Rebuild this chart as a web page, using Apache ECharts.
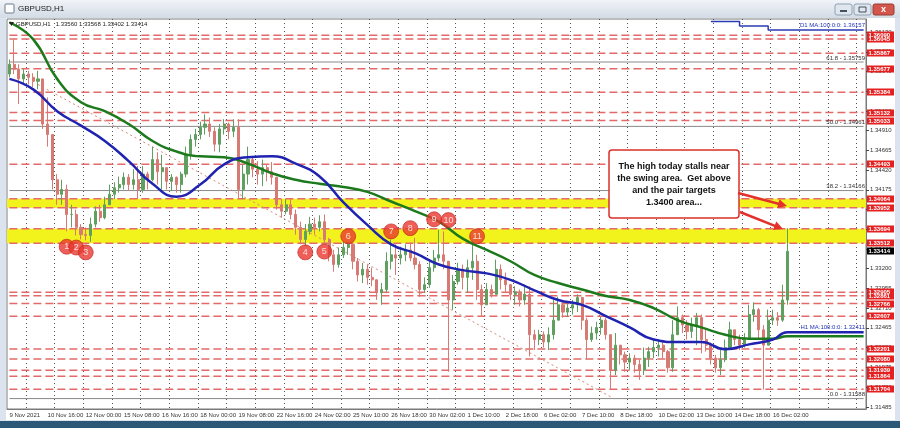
<!DOCTYPE html>
<html>
<head>
<meta charset="utf-8">
<script src="https://cdn.jsdelivr.net/npm/echarts@6.0.0/dist/echarts.min.js"></script>
<style>
  html, body { margin: 0; padding: 0; background: #dbe4ee; }
  #chart { width: 900px; height: 428px; }
</style>
</head>
<body>
<div id="chart"></div>
<script>
  // GBPUSD H1, drawn as 4-hour candles (8 candles between two time labels)
  const tickLabels = ['9 Nov 2021', '10 Nov 16:00', '12 Nov 00:00', '15 Nov 08:00', '16 Nov 16:00',
    '18 Nov 00:00', '19 Nov 08:00', '22 Nov 16:00', '24 Nov 02:00', '25 Nov 10:00', '26 Nov 18:00',
    '30 Nov 02:00', '1 Dec 10:00', '2 Dec 18:00', '6 Dec 02:00', '7 Dec 10:00', '8 Dec 18:00',
    '10 Dec 02:00', '13 Dec 10:00', '14 Dec 18:00', '16 Dec 02:00']
  const slotCount = 180
  const barsPerLabel = 8

  const firstOpen = 1.3561
  const closes = [
    1.3573, 1.3567, 1.3555, 1.3561, 1.3557, 1.3552, 1.3555, 1.3499, 1.3486, 1.3430,
    1.3412, 1.3418, 1.3387, 1.3387, 1.3371, 1.3362, 1.3361, 1.3375, 1.3391, 1.3383,
    1.3399, 1.3412, 1.3420, 1.3424, 1.3433, 1.3424, 1.3430, 1.3418, 1.3437, 1.3430,
    1.3455, 1.3440, 1.3445, 1.3428, 1.3433, 1.3424, 1.3437, 1.3461, 1.3480, 1.3486,
    1.3495, 1.3499, 1.3490, 1.3474, 1.3493, 1.3499, 1.3490, 1.3495, 1.3418, 1.3437,
    1.3455, 1.3443, 1.3437, 1.3445, 1.3440, 1.3433, 1.3399, 1.3391, 1.3399, 1.3387,
    1.3371, 1.3356, 1.3366, 1.3375, 1.3371, 1.3378, 1.3356, 1.3337, 1.3325, 1.3337,
    1.3346, 1.3350, 1.3329, 1.3312, 1.3319, 1.3309, 1.3306, 1.3290, 1.3294, 1.3329,
    1.3337, 1.3333, 1.3337, 1.3343, 1.3333, 1.3325, 1.3294, 1.3300, 1.3321, 1.3333,
    1.3337, 1.3329, 1.3281, 1.3304, 1.3319, 1.3309, 1.3321, 1.3329, 1.3294, 1.3275,
    1.3294, 1.3288, 1.3319, 1.3306, 1.3300, 1.3288, 1.3291, 1.3281, 1.3288, 1.3238,
    1.3232, 1.3238, 1.3229, 1.3238, 1.3256, 1.3275, 1.3266, 1.3271, 1.3275, 1.3284,
    1.3256, 1.3232, 1.3240, 1.3247, 1.3256, 1.3238, 1.3194, 1.3225, 1.3213, 1.3204,
    1.3209, 1.3201, 1.3194, 1.3209, 1.3217, 1.3222, 1.3225, 1.3217, 1.3197, 1.3238,
    1.3259, 1.3250, 1.3242, 1.3250, 1.3259, 1.3232, 1.3225, 1.3209, 1.3197, 1.3207,
    1.3222, 1.3244, 1.3232, 1.3225, 1.3234, 1.3263, 1.3269, 1.3244, 1.3225, 1.3256,
    1.3259, 1.3256, 1.3281, 1.33414
  ]
  const highs = [
    1.3579, 1.3604, 1.3573, 1.3567, 1.3565, 1.3562, 1.3565, 1.3548, 1.3532, 1.3480,
    1.3437, 1.3430, 1.3424, 1.3399, 1.3393, 1.3375, 1.3371, 1.3383, 1.3397, 1.3399,
    1.3409, 1.3424, 1.3427, 1.3434, 1.3439, 1.3437, 1.3443, 1.3447, 1.3447, 1.3440,
    1.3471, 1.3464, 1.3461, 1.3443, 1.3437, 1.3434, 1.3440, 1.3471, 1.3486, 1.3493,
    1.3502, 1.3511, 1.3507, 1.3495, 1.3499, 1.3505, 1.3501, 1.3505, 1.3505, 1.3449,
    1.3471, 1.3458, 1.3453, 1.3455, 1.3449, 1.3452, 1.3430, 1.3406, 1.3406, 1.3406,
    1.3393, 1.3378, 1.3375, 1.3384, 1.3383, 1.3386, 1.3387, 1.3358, 1.3343, 1.3346,
    1.3353, 1.3353, 1.3350, 1.3333, 1.3327, 1.3325, 1.3321, 1.3306, 1.3302, 1.3340,
    1.3356, 1.3350, 1.3347, 1.3350, 1.3352, 1.3358, 1.3329, 1.3309, 1.3329, 1.3343,
    1.3368, 1.3366, 1.3329, 1.3312, 1.3327, 1.3325, 1.3331, 1.3350, 1.3337, 1.3300,
    1.3302, 1.3300, 1.3331, 1.3325, 1.3315, 1.3300, 1.3298, 1.3294, 1.3300, 1.3298,
    1.3244, 1.3244, 1.3242, 1.3247, 1.3281, 1.3285, 1.3281, 1.3278, 1.3281, 1.3288,
    1.3285, 1.3259, 1.3248, 1.3254, 1.3260, 1.3259, 1.3238, 1.3240, 1.3225, 1.3217,
    1.3215, 1.3213, 1.3207, 1.3222, 1.3223, 1.3232, 1.3232, 1.3229, 1.3219, 1.3256,
    1.3273, 1.3263, 1.3256, 1.3259, 1.3265, 1.3263, 1.3244, 1.3228, 1.3213, 1.3219,
    1.3232, 1.3254, 1.3244, 1.3238, 1.3240, 1.3275, 1.3278, 1.3271, 1.3250, 1.3269,
    1.3269, 1.3266, 1.3300, 1.3370
  ]
  const lows = [
    1.3557, 1.3561, 1.3524, 1.3548, 1.3548, 1.3545, 1.3542, 1.3493, 1.3471, 1.3418,
    1.3399, 1.3399, 1.3366, 1.3371, 1.3361, 1.3356, 1.3355, 1.3353, 1.3371, 1.3378,
    1.3381, 1.3399, 1.3406, 1.3414, 1.3418, 1.3416, 1.3418, 1.3406, 1.3414, 1.3418,
    1.3428, 1.3424, 1.3418, 1.3418, 1.3416, 1.3414, 1.3414, 1.3433, 1.3455, 1.3471,
    1.3480, 1.3486, 1.3483, 1.3465, 1.3464, 1.3486, 1.3480, 1.3483, 1.3406, 1.3406,
    1.3424, 1.3433, 1.3424, 1.3422, 1.3428, 1.3424, 1.3393, 1.3383, 1.3387, 1.3381,
    1.3362, 1.3350, 1.3348, 1.3362, 1.3362, 1.3366, 1.3350, 1.3329, 1.3316, 1.3321,
    1.3333, 1.3337, 1.3319, 1.3304, 1.3302, 1.3300, 1.3298, 1.3281, 1.3275, 1.3291,
    1.3319, 1.3312, 1.3325, 1.3329, 1.3329, 1.3319, 1.3285, 1.3290, 1.3296, 1.3316,
    1.3329, 1.3319, 1.3192, 1.3269, 1.3300, 1.3294, 1.3290, 1.3306, 1.3281, 1.3260,
    1.3281, 1.3284, 1.3288, 1.3294, 1.3290, 1.3281, 1.3275, 1.3273, 1.3275, 1.3211,
    1.3219, 1.3225, 1.3222, 1.3219, 1.3232, 1.3256, 1.3259, 1.3260, 1.3263, 1.3266,
    1.3244, 1.3207, 1.3229, 1.3232, 1.3238, 1.3232, 1.3170, 1.3188, 1.3201, 1.3192,
    1.3194, 1.3191, 1.3182, 1.3188, 1.3198, 1.3209, 1.3211, 1.3209, 1.3191, 1.3192,
    1.3238, 1.3240, 1.3232, 1.3234, 1.3225, 1.3215, 1.3217, 1.3201, 1.3191, 1.3188,
    1.3204, 1.3219, 1.3225, 1.3219, 1.3222, 1.3232, 1.3254, 1.3232, 1.3170, 1.3225,
    1.3250, 1.3249, 1.3254, 1.3275
  ]

  // moving averages read at every 5th candle
  const maIdx = [0, 5, 10, 15, 20, 25, 30, 35, 40, 45, 50, 55, 60, 65, 70, 75, 80, 85, 90, 95,
    100, 105, 110, 115, 120, 125, 130, 135, 140, 145, 150, 155, 160, 163]
  const greenMA = [1.3625, 1.3604, 1.3555, 1.3526, 1.3515, 1.3499, 1.3478, 1.3465, 1.3459, 1.3458,
    1.3450, 1.3438, 1.3430, 1.3425, 1.3421, 1.3415, 1.3403, 1.3391, 1.3378, 1.3357,
    1.3343, 1.3329, 1.3312, 1.3302, 1.3294, 1.3286, 1.3281, 1.3271, 1.3256, 1.3247,
    1.3238, 1.3233, 1.3233, 1.3236]
  const blueMA = [1.3555, 1.3542, 1.3515, 1.3497, 1.3478, 1.3453, 1.3425, 1.3409, 1.3424, 1.3449,
    1.3458, 1.3459, 1.3450, 1.3434, 1.3402, 1.3374, 1.3350, 1.3339, 1.3325, 1.3318,
    1.3314, 1.3306, 1.3293, 1.3281, 1.3275, 1.3261, 1.3247, 1.3232, 1.3229, 1.3229,
    1.3220, 1.3226, 1.3232, 1.32411]
  const h1MA = 1.32411
  const h1GreenEnd = 1.3236
  const d1Idx = [147, 153, 159, 179]
  const d1MA = [1.36262, 1.36205, 1.36157, 1.36157]

  // horizontal levels
  const redLevels = [1.36090, 1.36045, 1.35867, 1.35677, 1.35384, 1.35132, 1.35033, 1.34493,
    1.34064, 1.33952, 1.33694, 1.33512, 1.32905, 1.32861, 1.32766, 1.32607, 1.32201, 1.32080,
    1.31939, 1.31864, 1.31704]
  const lastPrice = 1.33414
  const yellowBands = [[1.34064, 1.33952], [1.33694, 1.33512]]
  const fibNames = ['61.8', '50.0', '38.2', '0.0']
  const fibLevels = [1.35759, 1.34961, 1.34166, 1.31588]
  const priceTicks = [1.36130, 1.35885, 1.35640, 1.35395, 1.35150, 1.34910, 1.34665, 1.34420,
    1.34175, 1.33930, 1.33685, 1.33440, 1.33200, 1.32955, 1.32710, 1.32465, 1.32220, 1.31975,
    1.31730, 1.31485]
  const trendIdx = [6, 126]
  const trendPrice = [1.3548, 1.3161]

  // swing markers 1..11
  const swingIdx = [12, 14, 16, 62, 66, 71, 80, 84, 89, 92, 98]
  const swingPrice = [1.3347, 1.3346, 1.3340, 1.3340, 1.3341, 1.3360, 1.3366, 1.3370, 1.3381, 1.3380, 1.3360]

  const noteLines = ['The high today stalls near', 'the swing area.  Get above', 'and the pair targets', '1.3400 area...']

  // layout
  const gridLeft = 7, gridRight = 34, gridTop = 19, gridBottom = 19
  const plotRight = 900 - gridRight
  const smallFont = '"Liberation Sans", Arial, sans-serif'

  // build the library tables
  const cats = []
  for (let i = 0; i < slotCount; i++) cats.push(String(i))
  const ohlc = closes.map(function (c, i) {
    const o = i === 0 ? firstOpen : closes[i - 1]
    return [o, c, Math.min(lows[i], o, c), Math.max(highs[i], o, c)]
  })
  const greenData = maIdx.map((x, i) => [x, greenMA[i]])
  const blueData = maIdx.map((x, i) => [x, blueMA[i]])
  const d1Data = d1Idx.map((x, i) => [x, d1MA[i]])
  const swingData = swingIdx.map((x, i) => [x, swingPrice[i], i + 1])
  function levelSegments(values) {
    const out = []
    values.forEach(v => { out.push([0, v], [slotCount - 1, v], [slotCount - 1, '-']) })
    return out
  }

  const chart = echarts.init(document.getElementById('chart'))

  const option = {
    animation: false,
    backgroundColor: 'transparent',
    grid: { left: gridLeft, right: gridRight, top: gridTop, bottom: gridBottom, show: true,
      backgroundColor: '#fff', borderColor: '#7a7a7a', borderWidth: 1 },
    xAxis: {
      type: 'category',
      data: cats,
      boundaryGap: true,
      axisLine: { lineStyle: { color: '#7a7a7a' } },
      axisTick: { interval: i => i % barsPerLabel === 0, length: 4, lineStyle: { color: '#444' } },
      axisLabel: {
        interval: i => i % barsPerLabel === 0 && i / barsPerLabel < tickLabels.length,
        formatter: (v) => tickLabels[Number(v) / barsPerLabel] || '',
        showMinLabel: true, hideOverlap: false,
        align: 'left', margin: 3, fontSize: 6, color: '#333', fontFamily: smallFont
      },
      splitLine: { show: true, interval: i => (i - 4) % 6 === 0,
        lineStyle: { color: '#555', type: [1, 3], width: 1 } }
    },
    yAxis: {
      type: 'value',
      position: 'right',
      min: 1.31459,
      max: 1.36292,
      splitLine: { show: false },
      axisLine: { show: true, lineStyle: { color: '#7a7a7a' } },
      axisTick: { show: true, customValues: priceTicks, length: 3, inside: false, lineStyle: { color: '#444' } },
      axisLabel: { customValues: priceTicks, formatter: v => v.toFixed(5), margin: 4, fontSize: 6,
        color: '#333', fontFamily: smallFont, hideOverlap: false }
    },
    series: [
      {
        type: 'candlestick',
        data: ohlc,
        barWidth: 2.6,
        z: 4,
        itemStyle: { color: '#5f9f5f', color0: '#d77a73', borderColor: '#5f9f5f', borderColor0: '#d77a73',
          borderWidth: 1 },
        markArea: {
          silent: true,
          z: 1,
          itemStyle: { color: '#f2f21c' },
          data: yellowBands.map(b => [{ yAxis: b[0] }, { yAxis: b[1] }])
        }
      },
      {
        type: 'line', data: levelSegments(redLevels), symbol: 'none', z: 2, silent: true,
        lineStyle: { color: '#e46a6a', type: [8, 4], width: 1.5 }
      },
      {
        type: 'line', data: levelSegments(fibLevels), symbol: 'none', z: 2, silent: true,
        lineStyle: { color: '#8a8a8a', width: 1 }
      },
      {
        type: 'line', data: trendIdx.map((x, i) => [x, trendPrice[i]]), symbol: 'none', z: 2, silent: true,
        lineStyle: { color: '#cf8a78', type: [2, 3], width: 1 }
      },
      {
        type: 'line',
        data: greenData.concat([[slotCount - 1, h1GreenEnd]]),
        smooth: 0.5,
        symbol: 'none',
        z: 5,
        lineStyle: { color: '#1c7a1c', width: 2.5 }
      },
      {
        type: 'line',
        data: blueData.concat([[slotCount - 1, h1MA]]),
        smooth: 0.5,
        symbol: 'none',
        z: 6,
        lineStyle: { color: '#1f23b0', width: 2.5 }
      },
      {
        type: 'line',
        data: d1Data,
        step: 'end',
        symbol: 'none',
        z: 6,
        lineStyle: { color: '#2a3cb5', width: 1.5 }
      },
      {
        type: 'scatter',
        data: swingData,
        symbolSize: 15,
        z: 20,
        itemStyle: { color: '#e8372e', borderColor: '#c02520', borderWidth: 0.8 },
        label: { show: true, position: 'inside', formatter: p => String(p.value[2]), color: '#fff',
          fontSize: 9, fontFamily: 'Liberation Sans' }
      }
    ]
  }
  chart.setOption(option)

  // decorations that sit on the price scale: tags and line captions
  const py = v => chart.convertToPixel({ yAxisIndex: 0 }, v)

  function tag(v, fill) {
    const y = Math.round(py(v))
    return [
      { type: 'rect', z: 40, shape: { x: plotRight + 1, y: y - 3.5, width: 27, height: 7 }, style: { fill: fill } },
      { type: 'text', z: 41, style: { x: plotRight + 2.5, y: y + 0.5, text: v.toFixed(5), fill: '#fff',
        font: 'bold 6px ' + smallFont, verticalAlign: 'middle' } }
    ]
  }
  function caption(v, text, color, dy) {
    return { type: 'text', z: 41, style: { x: plotRight - 1, y: py(v) - (dy || 1), text: text, fill: color,
      font: '6px ' + smallFont, align: 'right', verticalAlign: 'bottom' } }
  }
  function arrow(x1, y1, x2, y2) {
    const len = Math.hypot(x2 - x1, y2 - y1)
    const dx = (x2 - x1) / len, dy = (y2 - y1) / len
    const hl = 9, hw = 4.5
    return [
      { type: 'line', z: 60, shape: { x1: x1, y1: y1, x2: x2 - dx * 6, y2: y2 - dy * 6 },
        style: { stroke: '#e2322b', lineWidth: 2.5 } },
      { type: 'polygon', z: 60, shape: { points: [[x2, y2],
        [x2 - dx * hl - dy * hw, y2 - dy * hl + dx * hw],
        [x2 - dx * hl + dy * hw, y2 - dy * hl - dx * hw]] },
        style: { fill: '#e2322b' } }
    ]
  }

  let graphics = [
    { type: 'rect', z: -10, shape: { x: 0, y: 0, width: 900, height: 428 }, style: { fill: '#dbe4ee' } },
    { type: 'rect', z: -9, shape: { x: 6, y: 18, width: 889, height: 402 }, style: { fill: '#fff' } },
    { type: 'rect', z: -9, shape: { x: 0, y: 421, width: 900, height: 7 }, style: { fill: '#2c5878' } },
    { type: 'rect', z: -9, shape: { x: 0, y: 0, width: 900, height: 18 },
      style: { fill: new echarts.graphic.LinearGradient(0, 0, 0, 1, [
        { offset: 0, color: '#f1f4f8' }, { offset: 1, color: '#d3dbe5' }]) } },
    { type: 'rect', z: 50, shape: { x: 5, y: 4, width: 9, height: 9, r: 1 },
      style: { fill: '#fff', stroke: '#6b7b8c', lineWidth: 1 } },
    { type: 'text', z: 50, style: { x: 18, y: 9, text: 'GBPUSD,H1', fill: '#1a1a1a',
      font: '8px ' + smallFont, verticalAlign: 'middle' } },
    { type: 'rect', z: 50, shape: { x: 835, y: 4, width: 17, height: 11, r: 2 },
      style: { fill: '#dfe6ee', stroke: '#8ea0b3' } },
    { type: 'rect', z: 50, shape: { x: 854, y: 4, width: 17, height: 11, r: 2 },
      style: { fill: '#dfe6ee', stroke: '#8ea0b3' } },
    { type: 'rect', z: 50, shape: { x: 873, y: 4, width: 21, height: 11, r: 2 },
      style: { fill: '#d2564c', stroke: '#9a3a33' } },
    { type: 'rect', z: 51, shape: { x: 840, y: 10, width: 7, height: 2 }, style: { fill: '#44505c' } },
    { type: 'rect', z: 51, shape: { x: 859, y: 7, width: 7, height: 5 }, style: { fill: 'none', stroke: '#44505c' } },
    { type: 'text', z: 51, style: { x: 883.5, y: 9.5, text: 'x', fill: '#fff', font: 'bold 9px ' + smallFont,
      align: 'center', verticalAlign: 'middle' } },
    { type: 'polygon', z: 50, shape: { points: [[9, 22], [14, 22], [11.5, 26]] }, style: { fill: '#222' } },
    { type: 'text', z: 50, style: { x: 16, y: 24.5, text: 'GBPUSD,H1   1.33560 1.33568 1.33402 1.33414',
      fill: '#222', font: '6px ' + smallFont, verticalAlign: 'middle' } },
    { type: 'rect', z: 59, shape: { x: 609, y: 150, width: 130, height: 68, r: 3 },
      style: { fill: '#fff', stroke: '#d9302a', lineWidth: 1.5 } },
    { type: 'text', z: 60, style: { x: 674, y: 185, text: noteLines.join('\n'), fill: '#111',
      font: 'bold 9px ' + smallFont, align: 'center', verticalAlign: 'middle', lineHeight: 12 } }
  ]
  graphics = graphics.concat(arrow(738, 193, 787, 206), arrow(740, 212, 783, 229))
  redLevels.forEach(v => { graphics = graphics.concat(tag(v, '#e42020')) })
  graphics = graphics.concat(tag(lastPrice, '#000'))
  fibLevels.forEach((v, i) => { graphics.push(caption(v, fibNames[i] + ' - ' + v.toFixed(5), '#333')) })
  graphics.push(caption(h1MA, 'H1 MA:100:0:0: ' + h1MA.toFixed(5), '#2233b8', 1.5))
  graphics.push(caption(d1MA[3], 'D1 MA:100:0:0: ' + d1MA[3].toFixed(5), '#2233b8', 1.5))

  chart.setOption({ graphic: graphics })
</script>
</body>
</html>
